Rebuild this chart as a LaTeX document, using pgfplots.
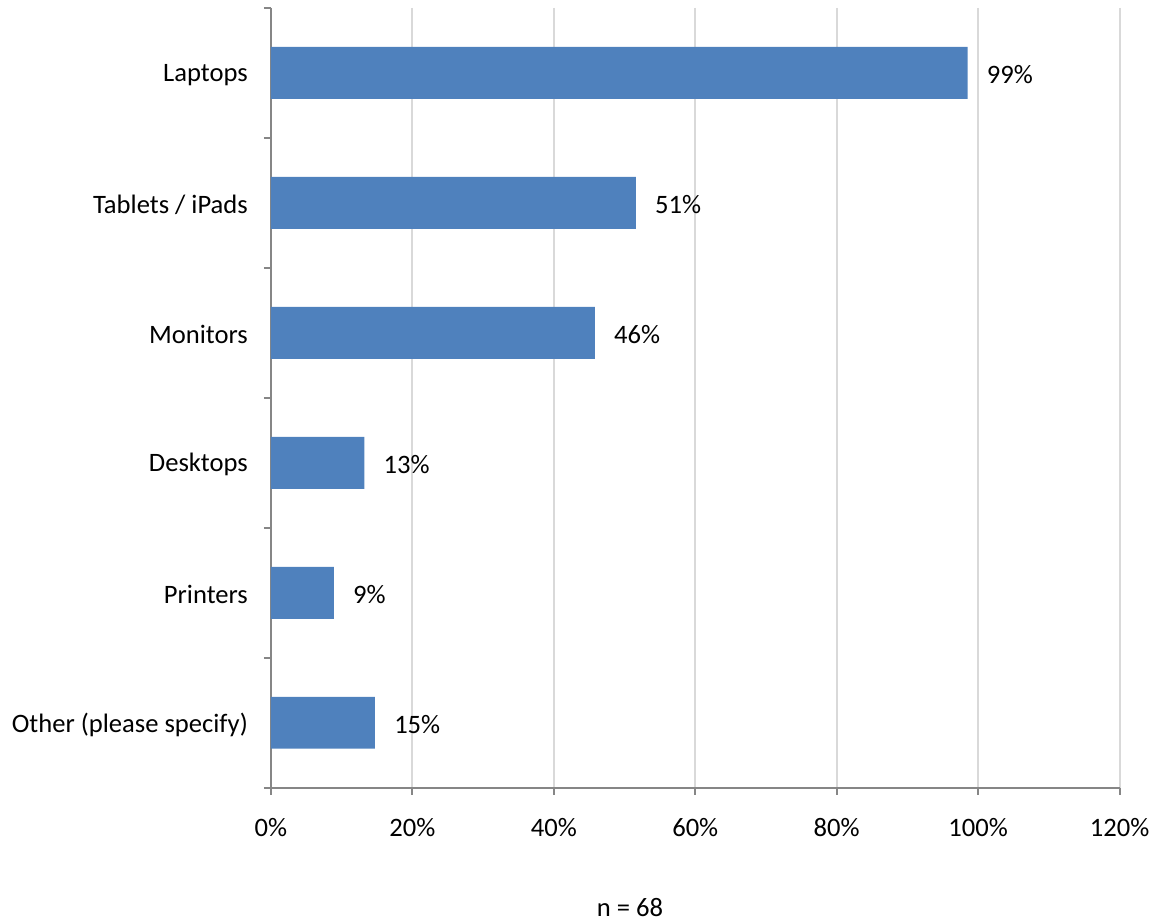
\documentclass[border=0pt]{standalone}
\usepackage{pgfplots}
\pgfplotsset{compat=1.18}
\usepackage{fontspec}
\setmainfont{Carlito}
\definecolor{barblue}{HTML}{4F81BD}
\definecolor{gridgray}{HTML}{D9D9D9}
\definecolor{axisgray}{HTML}{868686}
\begin{document}
\begin{tikzpicture}
\begin{axis}[
  width=424.5pt, height=390pt, scale only axis,
  xbar, bar width=0.4,
  xmin=0, xmax=120, ymin=-0.5, ymax=5.5,
  y dir=reverse,
  xtick={0,20,...,120},
  xticklabel={\pgfmathprintnumber{\tick}\%},
  /pgf/number format/assume math mode=true,
  ytick={0,...,5},
  yticklabels={Laptops,Tablets / iPads,Monitors,Desktops,Printers,Other (please specify)},
  minor ytick={-0.5,0.5,...,5.5},
  major y tick style={draw=none},
  tick align=outside,
  major tick length=3.5pt, minor tick length=3.5pt,
  axis x line*=bottom, axis y line*=left,
  axis line style={axisgray, line width=0.9pt},
  tick style={axisgray, line width=0.9pt},
  minor tick style={axisgray, line width=0.9pt},
  xmajorgrids, grid style={gridgray, line width=0.9pt},
  font=\fontsize{13.3}{16}\selectfont,
  ticklabel style={font=\fontsize{13.3}{16}\selectfont, text=black},
  xticklabel style={yshift=-8.5pt},
  yticklabel style={xshift=-4.5pt, yshift=-1pt},
  nodes near coords,
  point meta=explicit symbolic,
  nodes near coords style={anchor=west, inner sep=0pt, xshift=9.5pt, yshift=-1pt, font=\fontsize{13.3}{16}\selectfont, text=black},
  clip=false,
]
\addplot[fill=barblue, draw=none] table[meta=label] {
x y label
98.5 0 99\%
51.6 1 51\%
45.8 2 46\%
13.2 3 13\%
8.9 4 9\%
14.7 5 15\%
};
\node[font=\fontsize{13.3}{16}\selectfont, anchor=center] at ([yshift=-60pt]rel axis cs:0.423,0) {n = 68};
\path (rel axis cs:0,0) ++(-135.5pt,-66.5pt) coordinate (bl);
\path (rel axis cs:1,1) ++(18pt,4pt) coordinate (tr);
\end{axis}
\useasboundingbox (bl) rectangle (tr);
\end{tikzpicture}
\end{document}
